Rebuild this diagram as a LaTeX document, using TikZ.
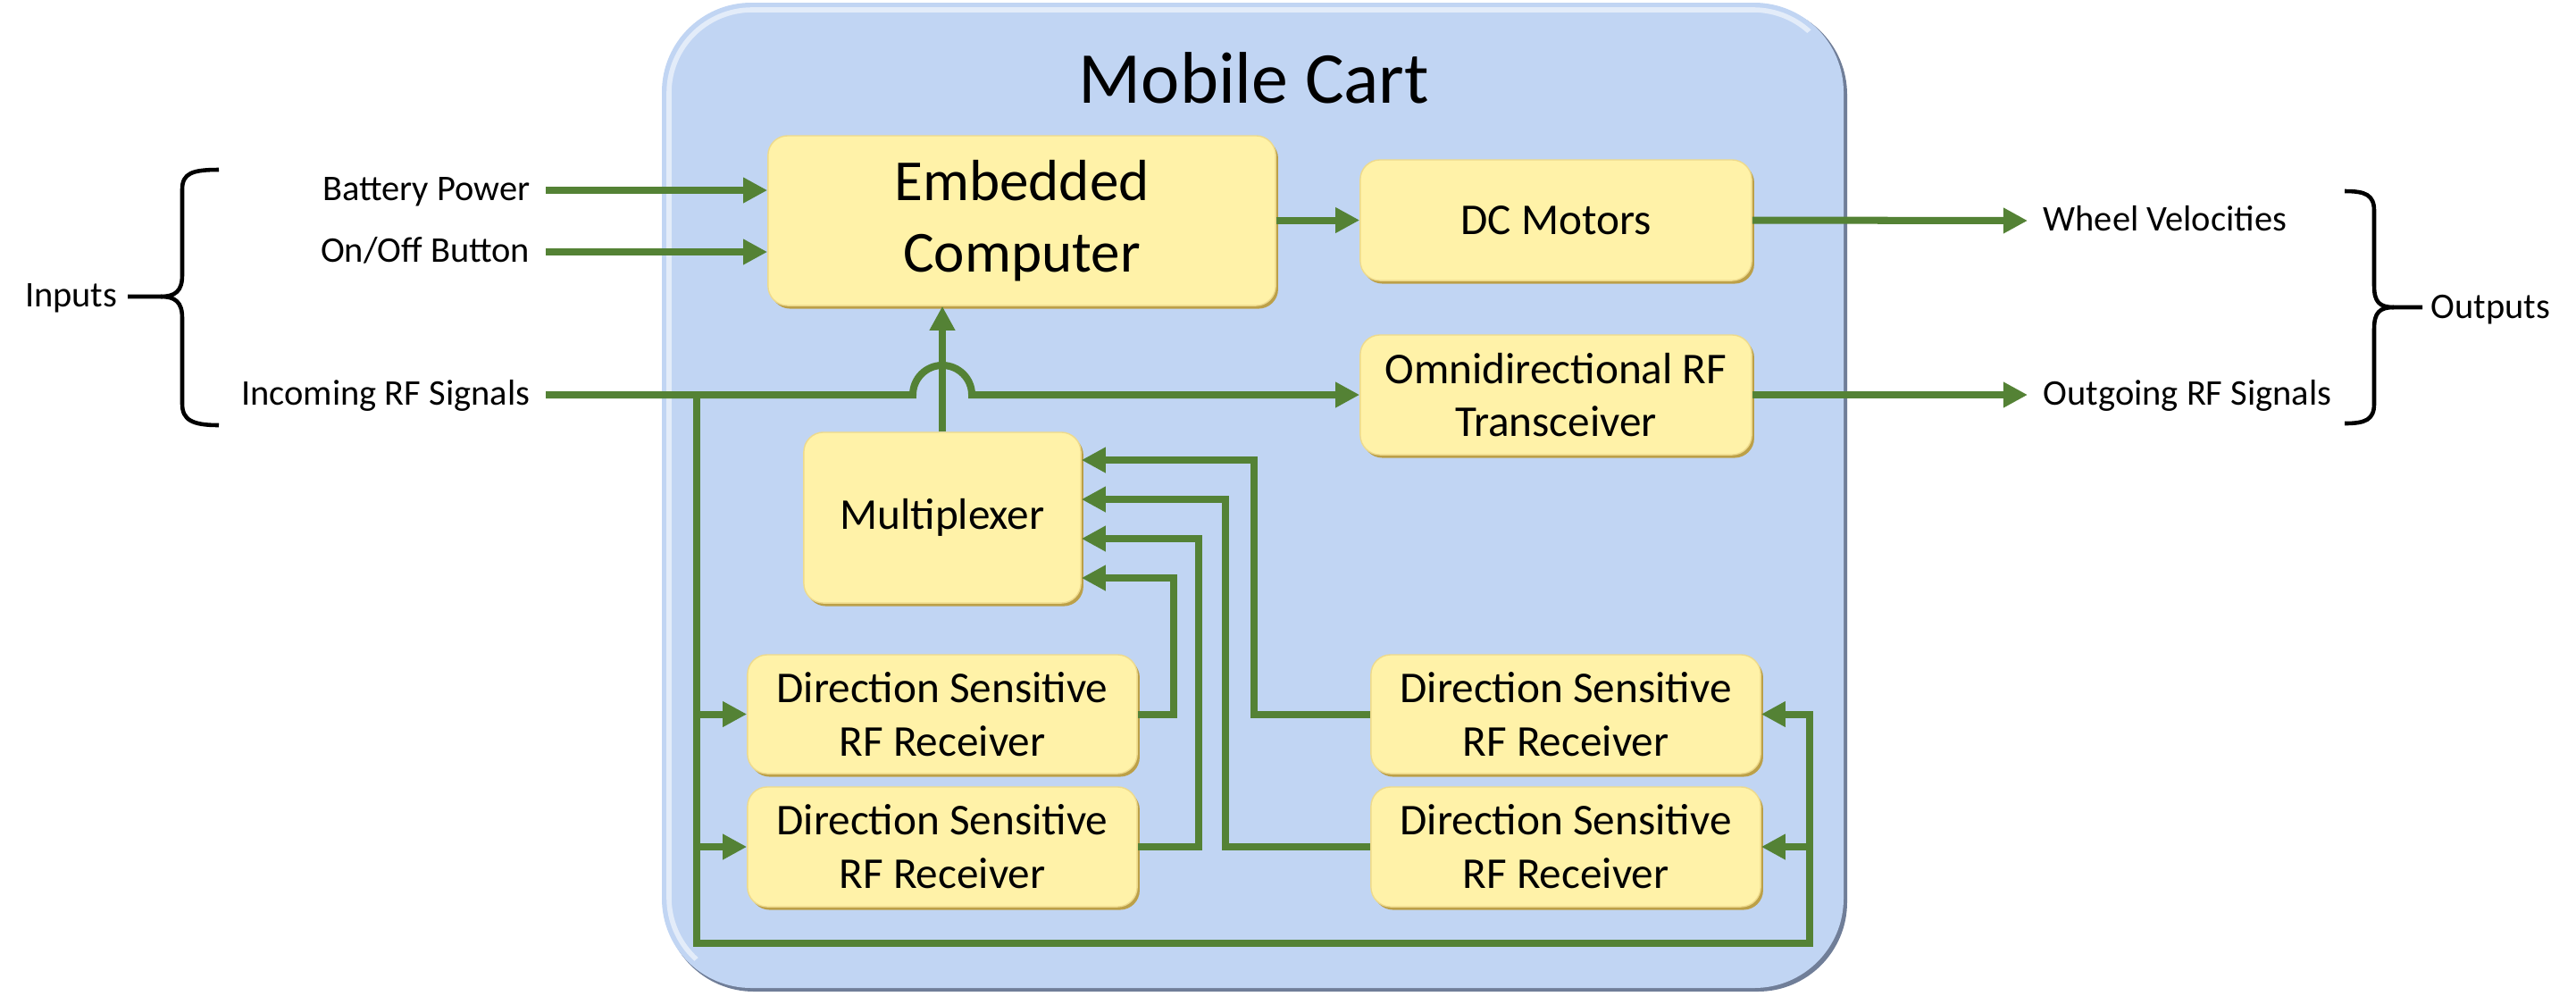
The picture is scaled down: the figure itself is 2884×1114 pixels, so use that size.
\documentclass[tikz,border=0pt]{standalone}
\usepackage{fontspec}
\setmainfont{Carlito}
\usetikzlibrary{arrows.meta,calc,shadows}
\definecolor{cartblue}{RGB}{193,213,243}
\definecolor{cartrim}{RGB}{112,126,152}
\definecolor{boxfill}{RGB}{255,242,168}
\definecolor{boxhi}{RGB}{255,251,222}
\definecolor{boxrim}{RGB}{188,160,72}
\definecolor{boxlow}{RGB}{226,204,120}
\definecolor{boxedge}{RGB}{238,218,140}
\definecolor{wire}{RGB}{84,130,53}
\pgfdeclareverticalshading{ybevel}{100bp}{color(0bp)=(boxlow); color(4bp)=(boxfill); color(93bp)=(boxfill); color(96.5bp)=(boxhi); color(98.5bp)=(boxhi); color(100bp)=(boxedge)}
\begin{document}
\begin{tikzpicture}[x=0.01cm,y=-0.01cm,
  ybox/.style={rectangle, rounded corners=0.22cm, shading=ybevel, draw=boxedge, line width=0.4pt,
    inner sep=0pt, align=center, font=\fontsize{14}{17}\selectfont,
    drop shadow={shadow xshift=0.8pt, shadow yshift=-1pt, fill=boxrim, opacity=1}},
  wire/.style={draw=wire, line width=2.28pt},
  arr/.style={wire, -{Triangle[length=7.7pt,width=7.7pt]}},
  lab/.style={inner sep=0pt, font=\fontsize{11.5}{14}\selectfont, text height=0.63em, text depth=0pt},
  brace/.style={draw=black, line width=1.3pt}]
\useasboundingbox (0,0) rectangle (2884,1114);
% cart
\fill[cartrim, rounded corners=1cm] (744,6) rectangle (2068,1110);
\fill[cartblue, rounded corners=1cm] (741,3) rectangle (2064,1106);
\begin{scope}
\clip (741,3) -- (2064,3) -- (741,1106) -- cycle;
\draw[white, opacity=0.55, line width=1.6pt, rounded corners=0.93cm] (749,11) rectangle (2056,1098);
\end{scope}
\node[inner sep=0pt, anchor=base, font=\fontsize{23.3}{28}\selectfont] (title) at (1404,115) {Mobile Cart};
% boxes
\node[ybox, minimum width=5.68cm, minimum height=1.9cm, font=\fontsize{18.5}{22.6}\selectfont] (emb) at (1144,247) {Embedded\\Computer};
\node[ybox, minimum width=4.38cm, minimum height=1.35cm] (dc) at (1742,246.5) {DC Motors};
\node[ybox, minimum width=4.38cm, minimum height=1.34cm] (omni) at (1742,442) {Omnidirectional RF\\Transceiver};
\node[ybox, minimum width=3.1cm, minimum height=1.91cm] (mux) at (1055,579.5) {Multiplexer};
\node[ybox, minimum width=4.36cm, minimum height=1.33cm] (L1) at (1055,799.5) {Direction Sensitive\\RF Receiver};
\node[ybox, minimum width=4.36cm, minimum height=1.34cm] (L2) at (1055,948) {Direction Sensitive\\RF Receiver};
\node[ybox, minimum width=4.36cm, minimum height=1.33cm] (R1) at (1753,799.5) {Direction Sensitive\\RF Receiver};
\node[ybox, minimum width=4.36cm, minimum height=1.34cm] (R2) at (1753,948) {Direction Sensitive\\RF Receiver};
% labels
\node[lab, anchor=east] (lbp) at (594,213) {Battery Power};
\node[lab, anchor=east] (lonoff) at (594,282) {On/Off Button};
\node[lab, anchor=east] (linc) at (594,442) {Incoming RF Signals};
\node[lab, anchor=east] (linputs) at (132,332) {Inputs};
\node[lab, anchor=west] (lwv) at (2287,247) {Wheel Velocities};
\node[lab, anchor=west] (lout) at (2287,442) {Outgoing RF Signals};
\node[lab, anchor=west] (loutputs) at (2721,345) {Outputs};
% input wires
\draw[arr] ($(lbp.east)+(17,0)$) -- (lbp.east -| emb.west);
\draw[arr] ($(lonoff.east)+(17,0)$) -- (lonoff.east -| emb.west);
\draw[arr] ($(linc.east)+(17,0)$) -- ($(mux.north |- linc.east)+(-33,0)$)
   arc[start angle=180, end angle=0, radius=0.33cm] -- (omni.west |- linc.east);
\draw[arr] (mux.north) -- (emb.south -| mux.north);
\draw[arr] (emb.east |- dc.west) -- (dc.west);
\draw[arr] (dc.east) -- ($(lwv.west)+(-17,0)$);
\draw[arr] (omni.east) -- ($(lout.west)+(-17,0)$);
% feed to receivers
\coordinate (fl) at (780,442);
\coordinate (fb) at (780,1056);
\coordinate (fr) at (2026,1056);
\draw[arr] (fl) -- (fb) -- (fr) |- (R1.east);
\draw[arr] (fl |- L1.west) -- (L1.west);
\draw[arr] (fl |- L2.west) -- (L2.west);
\draw[arr] (fr |- R2.east) -- (R2.east);
% receivers to multiplexer
\coordinate (j1) at (1314,647);
\coordinate (j2) at (1342,603);
\coordinate (j3) at (1372,559);
\coordinate (j4) at (1404,515);
\draw[arr] (L1.east) -| (j1) -- (mux.east |- j1);
\draw[arr] (L2.east) -| (j2) -- (mux.east |- j2);
\draw[arr] (R2.west) -| (j3) -- (mux.east |- j3);
\draw[arr] (R1.west) -| (j4) -- (mux.east |- j4);
% braces
\draw[brace] (245,190) .. controls (215,190) and (204,194) .. (204,212) -- (204,308)
  .. controls (204,326) and (196,332) .. (180,332) -- (143,332);
\draw[brace] (180,332) .. controls (196,332) and (204,338) .. (204,356) -- (204,452)
  .. controls (204,470) and (215,476) .. (245,476);
\draw[brace] (2625,214) .. controls (2648,214) and (2658,218) .. (2658,236) -- (2658,320)
  .. controls (2658,338) and (2664,344) .. (2680,344) -- (2712,344);
\draw[brace] (2680,344) .. controls (2664,344) and (2658,350) .. (2658,368) -- (2658,452)
  .. controls (2658,470) and (2648,474) .. (2625,474);
\end{tikzpicture}
\end{document}
